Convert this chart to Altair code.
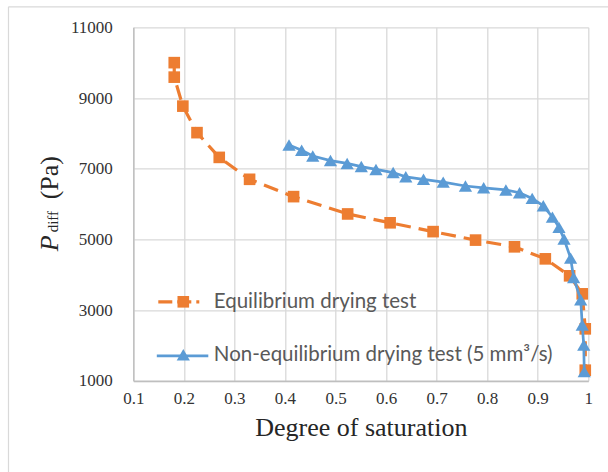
import altair as alt
import pandas as pd

# ---- data ----
eq_sat = [0.181, 0.181, 0.198, 0.226, 0.270, 0.330, 0.417, 0.524, 0.608, 0.693,
          0.777, 0.854, 0.915, 0.963, 0.988, 0.994, 0.994]
eq_p = [10000, 9590, 8770, 8020, 7320, 6700, 6210, 5720, 5470, 5220,
        4980, 4790, 4450, 3970, 3460, 2470, 1300]

neq_sat = [0.408, 0.433, 0.455, 0.490, 0.523, 0.551, 0.580, 0.614, 0.639, 0.674,
           0.713, 0.757, 0.793, 0.837, 0.864, 0.889, 0.911, 0.929, 0.942, 0.952,
           0.965, 0.971, 0.985, 0.988, 0.991, 0.992]
neq_p = [7670, 7520, 7360, 7230, 7150, 7060, 6980, 6890, 6770, 6700,
         6620, 6510, 6460, 6400, 6320, 6160, 5950, 5630, 5340, 5010,
         4470, 3920, 3290, 2580, 2010, 1260]

x_ticks = [0.1, 0.2, 0.3, 0.4, 0.5, 0.6, 0.7, 0.8, 0.9, 1.0]
y_ticks = [1000, 3000, 5000, 7000, 9000, 11000]
series_names = ["Equilibrium drying test", "Non-equilibrium drying test (5 mm³/s)"]
x_title = "Degree of saturation"
y_title_parts = ["P", "diff", "(Pa)"]

ORANGE = "#ED7D31"
BLUE = "#5B9BD5"
SERIF = "Liberation Serif"
SANS = "Lato"
LABEL_COLOR = "#333333"

eq_df = pd.DataFrame({"s": eq_sat, "p": eq_p, "i": list(range(len(eq_sat)))})
neq_df = pd.DataFrame({"s": neq_sat, "p": neq_p, "i": list(range(len(neq_sat)))})

x_enc = alt.X(
    "s:Q",
    scale=alt.Scale(domain=[0.1, 1.0], nice=False, zero=False),
    axis=alt.Axis(values=x_ticks, format=".1~f", title=x_title, labelFlush=False,
                  ticks=False, tickSize=0, labelPadding=10, titlePadding=8,
                  labelFont=SERIF, labelFontSize=17, labelColor=LABEL_COLOR,
                  titleFont=SERIF, titleFontSize=26, titleFontWeight="normal",
                  titleColor="#262626"),
)
y_enc = alt.Y(
    "p:Q",
    scale=alt.Scale(domain=[1000, 11000], nice=False, zero=False),
    axis=alt.Axis(values=y_ticks, format="d", title=None, labelFlush=False,
                  ticks=False, tickSize=0, labelPadding=21,
                  labelFont=SERIF, labelFontSize=17, labelColor=LABEL_COLOR),
)

eq_line = alt.Chart(eq_df).mark_line(color=ORANGE, strokeWidth=3.2, strokeDash=[15, 8]).encode(
    x=x_enc, y=y_enc, order="i:Q")
eq_pts = alt.Chart(eq_df).mark_point(shape="square", filled=True, size=135, color=ORANGE,
                                      opacity=1).encode(x="s:Q", y="p:Q")
neq_line = alt.Chart(neq_df).mark_line(color=BLUE, strokeWidth=2.7).encode(
    x="s:Q", y="p:Q", order="i:Q")
neq_pts = alt.Chart(neq_df).mark_point(shape="triangle-up", filled=True, size=175, color=BLUE,
                                        opacity=1).encode(x="s:Q", y="p:Q")

one = pd.DataFrame({"k": [0]})

# manual legend
leg_eq_line = alt.Chart(one).mark_rule(color=ORANGE, strokeWidth=3.2, strokeDash=[14, 5]).encode(
    x=alt.value(25), x2=alt.value(66), y=alt.value(274.5))
leg_eq_pt = alt.Chart(one).mark_point(shape="square", filled=True, size=135, color=ORANGE,
                                       opacity=1).encode(x=alt.value(50), y=alt.value(274.5))
leg_neq_line = alt.Chart(one).mark_rule(color=BLUE, strokeWidth=2.7).encode(
    x=alt.value(23.5), x2=alt.value(75), y=alt.value(328.5))
leg_neq_pt = alt.Chart(one).mark_point(shape="triangle-up", filled=True, size=175, color=BLUE,
                                        opacity=1).encode(x=alt.value(50), y=alt.value(327.5))
leg_t1 = alt.Chart(pd.DataFrame({"t": [series_names[0]]})).mark_text(
    align="left", baseline="middle", font=SANS, fontSize=20.5, color="#595959").encode(
    x=alt.value(80.5), y=alt.value(274.5), text="t:N")
leg_t2 = alt.Chart(pd.DataFrame({"t": [series_names[1]]})).mark_text(
    align="left", baseline="middle", font=SANS, fontSize=20.5, color="#595959").encode(
    x=alt.value(80.5), y=alt.value(328), text="t:N")

# y-axis title built from pieces (italic P with small "diff")
yt_p = alt.Chart(pd.DataFrame({"t": [y_title_parts[0]]})).mark_text(
    align="left", baseline="alphabetic", angle=270, font=SERIF, fontSize=26, fontStyle="italic",
    color="#262626").encode(x=alt.value(-75), y=alt.value(224), text="t:N")
yt_d = alt.Chart(pd.DataFrame({"t": [y_title_parts[1]]})).mark_text(
    align="left", baseline="alphabetic", angle=270, font=SERIF, fontSize=15,
    color="#262626").encode(x=alt.value(-75), y=alt.value(205), text="t:N")
yt_u = alt.Chart(pd.DataFrame({"t": [y_title_parts[2]]})).mark_text(
    align="left", baseline="alphabetic", angle=270, font=SERIF, fontSize=26,
    color="#262626").encode(x=alt.value(-75), y=alt.value(172), text="t:N")

# outer frame (left and top edges visible in the reference)
frame_top = alt.Chart(one).mark_rule(color="#d9d9d9", strokeWidth=1.2).encode(
    x=alt.value(-124.8), x2=alt.value(480), y=alt.value(-20.5))
frame_left = alt.Chart(one).mark_rule(color="#d9d9d9", strokeWidth=1.2).encode(
    x=alt.value(-124.8), y=alt.value(-20.5), y2=alt.value(450))

chart = alt.layer(
    eq_line, eq_pts, neq_line, neq_pts,
    leg_eq_line, leg_eq_pt, leg_neq_line, leg_neq_pt, leg_t1, leg_t2,
    yt_p, yt_d, yt_u, frame_top, frame_left,
).properties(
    width=455, height=353.5,
    padding={"left": 133.3, "top": 27.3, "right": 19.7, "bottom": 91.2},
    autosize=alt.AutoSizeParams(type="none"),
    background="white",
).configure_view(
    strokeWidth=0,
).configure_axis(
    labelFont=SERIF, labelFontSize=17, labelColor=LABEL_COLOR,
    titleFont=SERIF, titleFontSize=26, titleFontWeight="normal", titleColor="#262626",
    gridColor="#d9d9d9", gridWidth=1.3, domainColor="#bfbfbf", domainWidth=1.5,
)

chart.save("out.html", embed_options={"renderer": "svg", "actions": False})
